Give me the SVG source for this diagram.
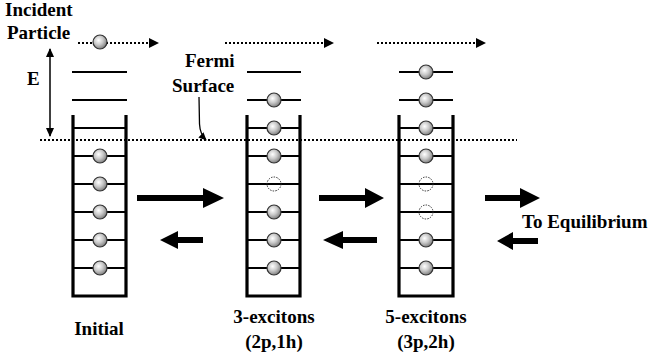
<svg xmlns="http://www.w3.org/2000/svg" width="653" height="358" viewBox="0 0 653 358">
<defs>
<radialGradient id="ballGrad" cx="0.4" cy="0.38" r="0.65">
<stop offset="0" stop-color="#ffffff"/>
<stop offset="0.5" stop-color="#c8c8c8"/>
<stop offset="1" stop-color="#7a7a7a"/>
</radialGradient>
<marker id="dotHead" viewBox="0 0 10 10" refX="9" refY="5" markerWidth="10" markerHeight="10" markerUnits="userSpaceOnUse" orient="auto">
<path d="M0,0 L10,5 L0,10 Z" fill="#000"/>
</marker>
<marker id="eHead" viewBox="0 0 10 10" refX="9" refY="5" markerWidth="9" markerHeight="9" markerUnits="userSpaceOnUse" orient="auto-start-reverse">
<path d="M0,0.5 L10,5 L0,9.5 Z" fill="#000"/>
</marker>
<marker id="smallHead" viewBox="0 0 10 10" refX="9" refY="5" markerWidth="8" markerHeight="8" markerUnits="userSpaceOnUse" orient="auto">
<path d="M0,0.5 L10,5 L0,9.5 Z" fill="#000"/>
</marker>
</defs>
<style>
.txt{font-weight:bold;font-size:19px;fill:#000}
.rail{stroke:#000;stroke-width:3.2;fill:none}
.rung{stroke:#000;stroke-width:2.2}
.ball{fill:url(#ballGrad);stroke:#333;stroke-width:1.2}
.hole{fill:none;stroke:#333;stroke-width:1;stroke-dasharray:1.5 1.2}
.dotted{stroke:#000;stroke-width:2;stroke-dasharray:2 2;fill:none}
.big{fill:#000}
</style>
<rect width="653" height="358" fill="#fff"/>

<g id="labels" font-family="'Liberation Serif', 'Times New Roman', Times, serif">
<text class="txt" x="5" y="16">Incident</text>
<text class="txt" x="7" y="39">Particle</text>
<text class="txt" x="27" y="85">E</text>
<text class="txt" x="185" y="67">Fermi</text>
<text class="txt" x="172" y="92">Surface</text>
<text class="txt" x="522" y="228">To Equilibrium</text>
<text class="txt" x="99" y="335" text-anchor="middle">Initial</text>
<text class="txt" x="274" y="323" text-anchor="middle">3-excitons</text>
<text class="txt" x="274" y="348" text-anchor="middle">(2p,1h)</text>
<text class="txt" x="426" y="323" text-anchor="middle">5-excitons</text>
<text class="txt" x="426" y="348" text-anchor="middle">(3p,2h)</text>
</g>

<g id="connectors">
<line class="dotted" x1="78" y1="43" x2="158" y2="43" marker-end="url(#dotHead)"/>
<line class="dotted" x1="225" y1="43" x2="333" y2="43" marker-end="url(#dotHead)"/>
<line class="dotted" x1="377" y1="43" x2="485" y2="43" marker-end="url(#dotHead)"/>
<line x1="50" y1="49" x2="50" y2="136" stroke="#000" stroke-width="1.5" marker-start="url(#eHead)" marker-end="url(#eHead)"/>
<path d="M199,97 L199.5,124 Q200,134 206,140" fill="none" stroke="#000" stroke-width="1.3" marker-end="url(#smallHead)"/>
<line class="dotted" x1="40" y1="140" x2="517" y2="140"/>
<path class="big" d="M137,195 L203,195 L203,188 L224,198 L203,208 L203,201 L137,201 Z"/>
<path class="big" d="M203,237 L178,237 L178,231 L160,240 L178,249 L178,243 L203,243 Z"/>
<path class="big" d="M319,195 L365,195 L365,188 L384,198 L365,208 L365,201 L319,201 Z"/>
<path class="big" d="M377,237 L343,237 L343,231 L323,240 L343,249 L343,243 L377,243 Z"/>
<path class="big" d="M485,195 L520,195 L520,188 L540,198 L520,208 L520,201 L485,201 Z"/>
<path class="big" d="M538,238 L513,238 L513,232 L497,241 L513,250 L513,244 L538,244 Z"/>
</g>

<g id="incident">
<circle class="ball" cx="100" cy="42" r="7"/>
</g>

<g id="initial">
<line class="rung" x1="72" y1="72" x2="127" y2="72"/>
<line class="rung" x1="72" y1="100" x2="127" y2="100"/>
<path class="rail" d="M73,115 L73,296 L126,296 L126,115"/>
<line class="rung" x1="73" y1="128" x2="126" y2="128"/>
<line class="rung" x1="73" y1="156" x2="126" y2="156"/>
<line class="rung" x1="73" y1="184" x2="126" y2="184"/>
<line class="rung" x1="73" y1="212" x2="126" y2="212"/>
<line class="rung" x1="73" y1="240" x2="126" y2="240"/>
<line class="rung" x1="73" y1="268" x2="126" y2="268"/>
<circle class="ball" cx="100" cy="156" r="7"/>
<circle class="ball" cx="100" cy="184" r="7"/>
<circle class="ball" cx="100" cy="212" r="7"/>
<circle class="ball" cx="100" cy="240" r="7"/>
<circle class="ball" cx="100" cy="268" r="7"/>
</g>

<g id="exciton3">
<line class="rung" x1="247" y1="72" x2="301" y2="72"/>
<line class="rung" x1="247" y1="100" x2="301" y2="100"/>
<path class="rail" d="M247,115 L247,296 L300,296 L300,115"/>
<line class="rung" x1="247" y1="128" x2="300" y2="128"/>
<line class="rung" x1="247" y1="156" x2="300" y2="156"/>
<line class="rung" x1="247" y1="184" x2="300" y2="184"/>
<line class="rung" x1="247" y1="212" x2="300" y2="212"/>
<line class="rung" x1="247" y1="240" x2="300" y2="240"/>
<line class="rung" x1="247" y1="268" x2="300" y2="268"/>
<circle class="ball" cx="274" cy="100" r="7"/>
<circle class="ball" cx="274" cy="128" r="7"/>
<circle class="ball" cx="274" cy="156" r="7"/>
<circle class="hole" cx="274" cy="184" r="7"/>
<circle class="ball" cx="274" cy="212" r="7"/>
<circle class="ball" cx="274" cy="240" r="7"/>
<circle class="ball" cx="274" cy="268" r="7"/>
</g>

<g id="exciton5">
<line class="rung" x1="399" y1="72" x2="453" y2="72"/>
<line class="rung" x1="399" y1="100" x2="453" y2="100"/>
<path class="rail" d="M399,115 L399,296 L453,296 L453,115"/>
<line class="rung" x1="399" y1="128" x2="453" y2="128"/>
<line class="rung" x1="399" y1="156" x2="453" y2="156"/>
<line class="rung" x1="399" y1="184" x2="453" y2="184"/>
<line class="rung" x1="399" y1="212" x2="453" y2="212"/>
<line class="rung" x1="399" y1="240" x2="453" y2="240"/>
<line class="rung" x1="399" y1="268" x2="453" y2="268"/>
<circle class="ball" cx="426" cy="72" r="7"/>
<circle class="ball" cx="426" cy="100" r="7"/>
<circle class="ball" cx="426" cy="128" r="7"/>
<circle class="ball" cx="426" cy="156" r="7"/>
<circle class="hole" cx="426" cy="184" r="7"/>
<circle class="hole" cx="426" cy="212" r="7"/>
<circle class="ball" cx="426" cy="240" r="7"/>
<circle class="ball" cx="426" cy="268" r="7"/>
</g>
</svg>
